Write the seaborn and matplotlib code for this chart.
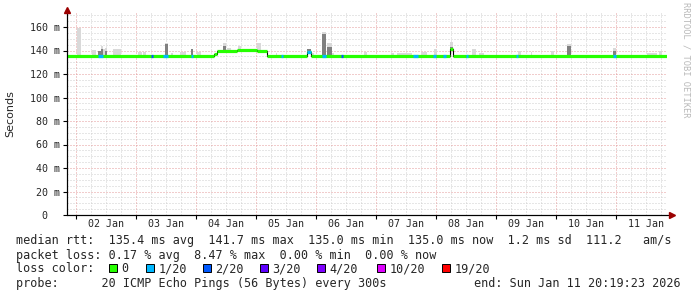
import numpy as np
import pandas as pd
import matplotlib
matplotlib.use("Agg")
import matplotlib.pyplot as plt
from matplotlib.patches import Rectangle
import seaborn as sns

# ---------------- data (time = day of January 2026, 2.0 = 02 Jan 00:00) ----------------
t_start = 1 + (20 + 19 / 60 + 23 / 3600) / 24      # Jan 01 20:19:23
t_end = t_start + 10                                 # Jan 11 20:19:23

# median rtt (ms): step segments (start time, value)
med_start = [t_start, 4.297, 4.347, 4.680, 5.013, 5.180, 5.847, 5.913, 8.230, 8.280]
med_value = [135.4, 137.2, 139.6, 140.3, 139.6, 135.4, 138.5, 135.4, 141.0, 135.4]

# packet-loss periods (loss level index: 1 -> 1/20, 2 -> 2/20)
loss_start = [2.363, 3.247, 3.447, 3.913, 5.413, 5.847, 6.097, 6.413, 7.613, 7.947, 8.113, 8.497, 9.330, 10.947]
loss_end   = [2.447, 3.280, 3.530, 3.947, 5.447, 5.913, 6.163, 6.447, 7.697, 7.997, 8.163, 8.530, 9.363, 10.997]
loss_level = [1, 2, 1, 1, 1, 1, 1, 2, 1, 1, 1, 1, 1, 1]

# smoke (ping spread): start, end, outer top (ms), dense core top (ms, 0 = none)
smoke_start = [2.013, 2.263, 2.363, 2.413, 2.447, 2.480, 2.613, 3.030, 3.113, 3.480, 3.580, 3.730, 3.913, 4.013,
               4.447, 4.513, 4.697, 5.013, 5.330, 5.847, 5.913, 6.097, 6.180, 6.263, 6.797, 7.247, 7.347, 7.747,
               7.963, 8.230, 8.597, 8.713, 8.997, 9.363, 9.580, 9.913, 10.180, 10.947, 11.247, 11.513, 11.713]
smoke_end   = [2.080, 2.330, 2.413, 2.447, 2.480, 2.513, 2.747, 3.097, 3.163, 3.530, 3.613, 3.830, 3.947, 4.080,
               4.497, 4.580, 4.747, 5.080, 5.347, 5.913, 5.963, 6.163, 6.263, 6.297, 6.847, 7.297, 7.597, 7.847,
               8.013, 8.280, 8.663, 8.797, 9.013, 9.413, 9.597, 9.963, 10.247, 10.997, 11.263, 11.680, 11.763]
smoke_top   = [159.0, 140.2, 139.5, 143.8, 141.0, 142.5, 141.0, 138.5, 138.5, 146.7, 137.8, 138.5, 141.0, 138.5,
               146.0, 142.0, 144.0, 146.0, 138.0, 141.0, 138.0, 155.7, 146.6, 138.0, 139.0, 138.0, 137.8, 139.0,
               141.0, 147.5, 141.0, 138.0, 139.5, 140.0, 139.0, 140.0, 145.5, 142.0, 139.5, 137.5, 139.5]
smoke_core  = [0, 0, 139.5, 141.0, 0, 140.0, 0, 0, 0, 145.5, 0, 0, 141.0, 0,
               144.0, 0, 0, 0, 0, 141.0, 0, 154.0, 143.0, 0, 0, 0, 0, 0,
               0, 143.0, 0, 0, 0, 0, 0, 0, 143.5, 140.0, 0, 0, 0]

day_labels = ["02 Jan", "03 Jan", "04 Jan", "05 Jan", "06 Jan", "07 Jan", "08 Jan", "09 Jan", "10 Jan", "11 Jan"]
ytick_values = [0, 20, 40, 60, 80, 100, 120, 140, 160]
ytick_labels = ["0  ", "20 m", "40 m", "60 m", "80 m", "100 m", "120 m", "140 m", "160 m"]

loss_labels = ["0", "1/20", "2/20", "3/20", "4/20", "10/20", "19/20"]
loss_colors = ["#26ff00", "#00b8ff", "#0059ff", "#5e00ff", "#7e00ff", "#dd00ff", "#ff0000"]

line_rtt = "median rtt:  135.4 ms avg  141.7 ms max  135.0 ms min  135.0 ms now  1.2 ms sd  111.2   am/s"
line_loss = "packet loss: 0.17 % avg  8.47 % max  0.00 % min  0.00 % now"
line_color = "loss color:"
line_probe = "probe:      20 ICMP Echo Pings (56 Bytes) every 300s"
line_end = "end: Sun Jan 11 20:19:23 2026"

# ---------------- figure ----------------
sns.set_theme(style="white")
plt.rcParams["font.family"] = ["DejaVu Sans Mono", "DejaVu Sans"]
plt.rcParams["lines.scale_dashes"] = True

W, H = 697, 297
fig = plt.figure(figsize=(W / 100, H / 100), dpi=100)
fig.patch.set_facecolor("white")
ax = fig.add_axes([67 / W, 82 / H, 600 / W, 202 / H])
ax.set_facecolor("white")
ymax = 202 / 1.175
ax.set_xlim(t_start, t_end)
ax.set_ylim(0, ymax)


def median_at(t):
    i = np.searchsorted(med_start, t, side="right") - 1
    return med_value[max(i, 0)]


# grid (dotted)
dot = (0, (1, 2))
red_grid, grey_grid = "#e49a9a", "#cfcfcf"
for d in np.arange(1.75, 12.0, 0.25):
    if t_start < d < t_end:
        major = abs(d - round(d)) < 1e-6
        ax.axvline(d, color=red_grid if major else grey_grid, lw=0.72, ls=dot,
                   zorder=0.5 if major else 0.4)
for v in np.arange(5, ymax, 5):
    major = v % 20 == 0
    ax.axhline(v, color=red_grid if major else grey_grid, lw=0.72, ls=dot,
               zorder=0.5 if major else 0.4)

# smoke
for s, e, top, core in zip(smoke_start, smoke_end, smoke_top, smoke_core):
    base = median_at((s + e) / 2) - 0.6
    ax.bar(s, top - base, width=e - s, bottom=base, align="edge", color="#d9d9d9", lw=0, zorder=1)
    if core > base:
        ax.bar(s, core - base, width=e - s, bottom=base, align="edge", color="#808080", lw=0, zorder=1.1)

# median: thin black step line, then coloured thick segments
med_df = pd.DataFrame({"t": med_start + [t_end], "rtt": med_value + [med_value[-1]]})
sns.lineplot(data=med_df, x="t", y="rtt", drawstyle="steps-post", color="black", lw=0.8,
             ax=ax, legend=False, zorder=2)
seg_end = med_start[1:] + [t_end]
ax.hlines(med_value, med_start, seg_end, colors=loss_colors[0], lw=2.3, zorder=3)
for s, e, lv in zip(loss_start, loss_end, loss_level):
    ax.hlines(median_at((s + e) / 2), s, e, colors=loss_colors[lv], lw=2.3, zorder=3.1)

# axes
for sp in ["top", "right"]:
    ax.spines[sp].set_visible(False)
for sp in ["left", "bottom"]:
    ax.spines[sp].set_color("black")
    ax.spines[sp].set_linewidth(0.8)
ax.plot([0, 1.009], [0, 0], transform=ax.transAxes, color="black", lw=0.8, clip_on=False, zorder=4)
ax.plot([0, 0], [0, 1.01], transform=ax.transAxes, color="black", lw=0.8, clip_on=False, zorder=4)
ax.plot([1.009], [0], marker=">", ms=4.5, color="#9b0000", transform=ax.transAxes, clip_on=False, zorder=5)
ax.plot([0], [1.015], marker="^", ms=4.5, color="#9b0000", transform=ax.transAxes, clip_on=False, zorder=5)

ax.set_yticks(ytick_values)
ax.set_yticklabels(ytick_labels, fontsize=7.2)
ax.tick_params(axis="y", which="major", length=3, width=0.8, color="black", pad=2, left=True)
ax.set_xticks(np.arange(2, 12))
ax.set_xticklabels([])
ax.tick_params(axis="x", which="major", length=3, width=0.8, color="black", bottom=True)
ax.set_xticks(np.arange(2, 12) + 0.5, minor=True)
ax.set_xticklabels(day_labels, minor=True, fontsize=7.2)
ax.tick_params(axis="x", which="minor", length=0, pad=3.2, bottom=True)
ax.set_xlabel("")
ax.set_ylabel("")
ax.grid(False)

# texts
def ptext(x, y, s, **kw):
    fig.text(x / W, 1 - y / H, s, **kw)


ptext(10, 114, "Seconds", rotation=90, ha="center", va="center", fontsize=8,
      family=["DejaVu Sans"])
ptext(686, 60, "RRDTOOL / TOBI OETIKER", rotation=270, ha="center", va="center",
      fontsize=6.3, color="#b9b9b9")

fs = 8.5
ptext(16, 244.3, line_rtt, fontsize=fs, va="baseline", ha="left")
ptext(16, 259.3, line_loss, fontsize=fs, va="baseline", ha="left")
ptext(16, 272.3, line_color, fontsize=fs, va="baseline", ha="left")
ptext(16, 286.7, line_probe, fontsize=fs, va="baseline", ha="left")
ptext(680.5, 286.7, line_end, fontsize=fs, va="baseline", ha="right")

sq_x = [109, 146, 203, 260, 317, 377, 442]
for x, lab, col in zip(sq_x, loss_labels, loss_colors):
    fig.patches.append(Rectangle((x / W, 1 - 272.3 / H), 7.5 / W, 8 / H, transform=fig.transFigure,
                                 facecolor=col, edgecolor="black", lw=0.7))
    ptext(x + 12.5, 272.3, lab, fontsize=fs, va="baseline", ha="left")

fig.savefig("out.png", dpi=100, facecolor="white")
